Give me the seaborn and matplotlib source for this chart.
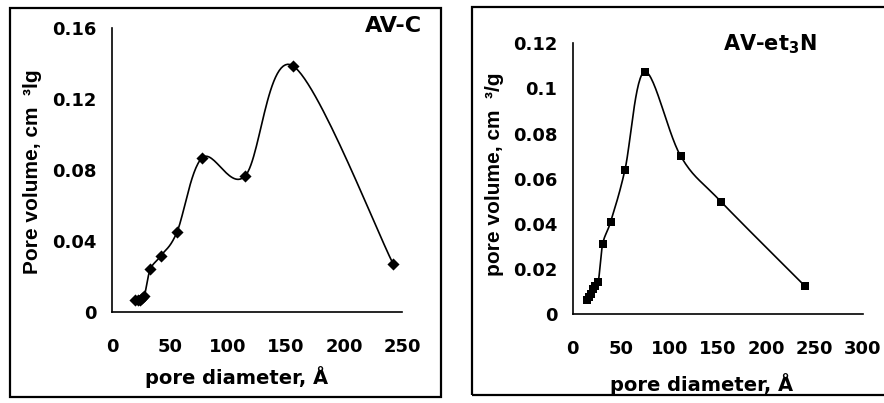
import numpy as np
import matplotlib
matplotlib.use("Agg")
import matplotlib.pyplot as plt
from matplotlib.patches import Rectangle
import seaborn as sns

# ---- data ----
avc_diameter = [20, 22, 24, 26, 28, 33, 42, 56, 78, 114.7, 155.7, 242.5]
avc_volume = [0.0065, 0.0067, 0.007, 0.008, 0.0092, 0.024, 0.0316, 0.045, 0.087, 0.0766, 0.1388, 0.0269]

avet_diameter = [14.5, 17, 19, 21, 23, 26.5, 31, 39.3, 54, 74.4, 111.7, 153.4, 240.2]
avet_volume = [0.0062, 0.0075, 0.009, 0.011, 0.0125, 0.0143, 0.031, 0.041, 0.0638, 0.1074, 0.070, 0.0498, 0.0124]

avc_xticks = [0, 50, 100, 150, 200, 250]
avc_yticks = [0, 0.04, 0.08, 0.12, 0.16]
avc_yticklabels = ["0", "0.04", "0.08", "0.12", "0.16"]
avet_xticks = [0, 50, 100, 150, 200, 250, 300]
avet_yticks = [0, 0.02, 0.04, 0.06, 0.08, 0.1, 0.12]
avet_yticklabels = ["0", "0.02", "0.04", "0.06", "0.08", "0.1", "0.12"]

sns.set_theme(style="white")
plt.rcParams['font.family'] = ['DejaVu Sans']
plt.rcParams['font.weight'] = 'bold'
plt.rcParams['text.color'] = 'black'
plt.rcParams['axes.labelcolor'] = 'black'
plt.rcParams['xtick.color'] = 'black'
plt.rcParams['ytick.color'] = 'black'
plt.rcParams['mathtext.fontset'] = 'custom'
plt.rcParams['mathtext.rm'] = 'DejaVu Sans:bold'
plt.rcParams['mathtext.bf'] = 'DejaVu Sans:bold'
plt.rcParams['mathtext.it'] = 'DejaVu Sans:bold'


def smooth_curve(x, y, n=30):
    """Excel-style smoothed line (cubic Bezier with Catmull-Rom control points)."""
    x = np.asarray(x, float)
    y = np.asarray(y, float)
    P = np.column_stack([x, y])
    out = []
    t = np.linspace(0, 1, n)[:, None]
    for i in range(len(P) - 1):
        p0 = P[i - 1] if i > 0 else P[i]
        p1 = P[i]
        p2 = P[i + 1]
        p3 = P[i + 2] if i + 2 < len(P) else P[i + 1]
        b1 = p1 + (p2 - p0) / 6.0
        b2 = p2 - (p3 - p1) / 6.0
        seg = ((1 - t) ** 3) * p1 + 3 * ((1 - t) ** 2) * t * b1 + 3 * (1 - t) * t ** 2 * b2 + t ** 3 * p2
        out.append(seg if i == 0 else seg[1:])
    c = np.vstack(out)
    return c[:, 0], c[:, 1]


W, H = 884, 403
fig = plt.figure(figsize=(W / 100, H / 100), dpi=100)
fig.patch.set_facecolor('white')


def px_axes(x0, y0, x1, y1):
    return fig.add_axes([x0 / W, 1 - y1 / H, (x1 - x0) / W, (y1 - y0) / H])


# frames
fig.patches.append(Rectangle((10 / W, 1 - 397 / H), (441 - 10) / W, (397 - 8) / H,
                             transform=fig.transFigure, fill=False, lw=1.6, ec='black'))
fig.patches.append(Rectangle((472 / W, 1 - 395 / H), (890 - 472) / W, (395 - 7) / H,
                             transform=fig.transFigure, fill=False, lw=1.6, ec='black'))


def style_axes(ax, xlim, ylim, xticks, yticks, yticklabels):
    ax.set_xlim(*xlim)
    ax.set_ylim(*ylim)
    ax.set_facecolor('none')
    for s in ['top', 'right']:
        ax.spines[s].set_visible(False)
    for s in ['left', 'bottom']:
        ax.spines[s].set_color('black')
        ax.spines[s].set_linewidth(1.2)
    ax.set_xticks(xticks)
    ax.set_xticklabels([str(v) for v in xticks])
    ax.set_yticks(yticks)
    ax.set_yticklabels(yticklabels)
    ax.tick_params(axis='both', which='both', direction='out', length=5, width=1.2,
                   color='black', labelsize=13, labelcolor='black')
    ax.tick_params(axis='x', pad=14)
    ax.tick_params(axis='y', pad=6)
    for lab in ax.get_xticklabels() + ax.get_yticklabels():
        lab.set_fontweight('bold')
    ax.grid(False)
    ax.set_xlabel('')
    ax.set_ylabel('')


# ---- left panel ----
ax1 = px_axes(112, 28, 402, 312)
cx, cy = smooth_curve(avc_diameter, avc_volume)
sns.lineplot(x=cx, y=cy, ax=ax1, sort=False, estimator=None, color='black', lw=1.2)
sns.scatterplot(x=avc_diameter, y=avc_volume, ax=ax1, marker='D', s=38, color='black',
                edgecolor='black', linewidth=0, zorder=5)
style_axes(ax1, (0, 250), (0, 0.16), avc_xticks, avc_yticks, avc_yticklabels)
ax1.set_xlim(0, 250)
ax1.set_ylim(0, 0.16)
fig.text(393 / W, 1 - 26 / H, 'AV-C', ha='center', va='center', fontsize=16,
         fontweight='bold', color='black')
fig.text(237 / W, 1 - 377 / H, 'pore diameter, Å', ha='center', va='center', fontsize=14,
         fontweight='bold', color='black')
fig.text(33 / W, 1 - 172 / H, 'Pore volume, cm  ³lg', ha='center', va='center', fontsize=15,
         fontweight='bold', rotation=90, family='Liberation Sans', color='black')

# ---- right panel ----
ax2 = px_axes(572.7, 43.3, 862.7, 314)
cx2, cy2 = smooth_curve(avet_diameter, avet_volume)
sns.lineplot(x=cx2, y=cy2, ax=ax2, sort=False, estimator=None, color='black', lw=1.2)
sns.scatterplot(x=avet_diameter, y=avet_volume, ax=ax2, marker='s', s=34, color='black',
                edgecolor='black', linewidth=0, zorder=5)
style_axes(ax2, (0, 300), (0, 0.12), avet_xticks, avet_yticks, avet_yticklabels)
ax2.set_xlim(0, 300)
ax2.set_ylim(0, 0.12)
fig.text(770 / W, 1 - 44 / H, r'AV-et$_3$N', ha='center', va='center', fontsize=15,
         fontweight='bold', color='black')
fig.text(702 / W, 1 - 384 / H, 'pore diameter, Å', ha='center', va='center', fontsize=14,
         fontweight='bold', color='black')
fig.text(495 / W, 1 - 174 / H, 'pore volume, cm  ³/g', ha='center', va='center', fontsize=15,
         fontweight='bold', rotation=90, family='Liberation Sans', color='black')

fig.savefig('out.png', dpi=100, facecolor='white')
